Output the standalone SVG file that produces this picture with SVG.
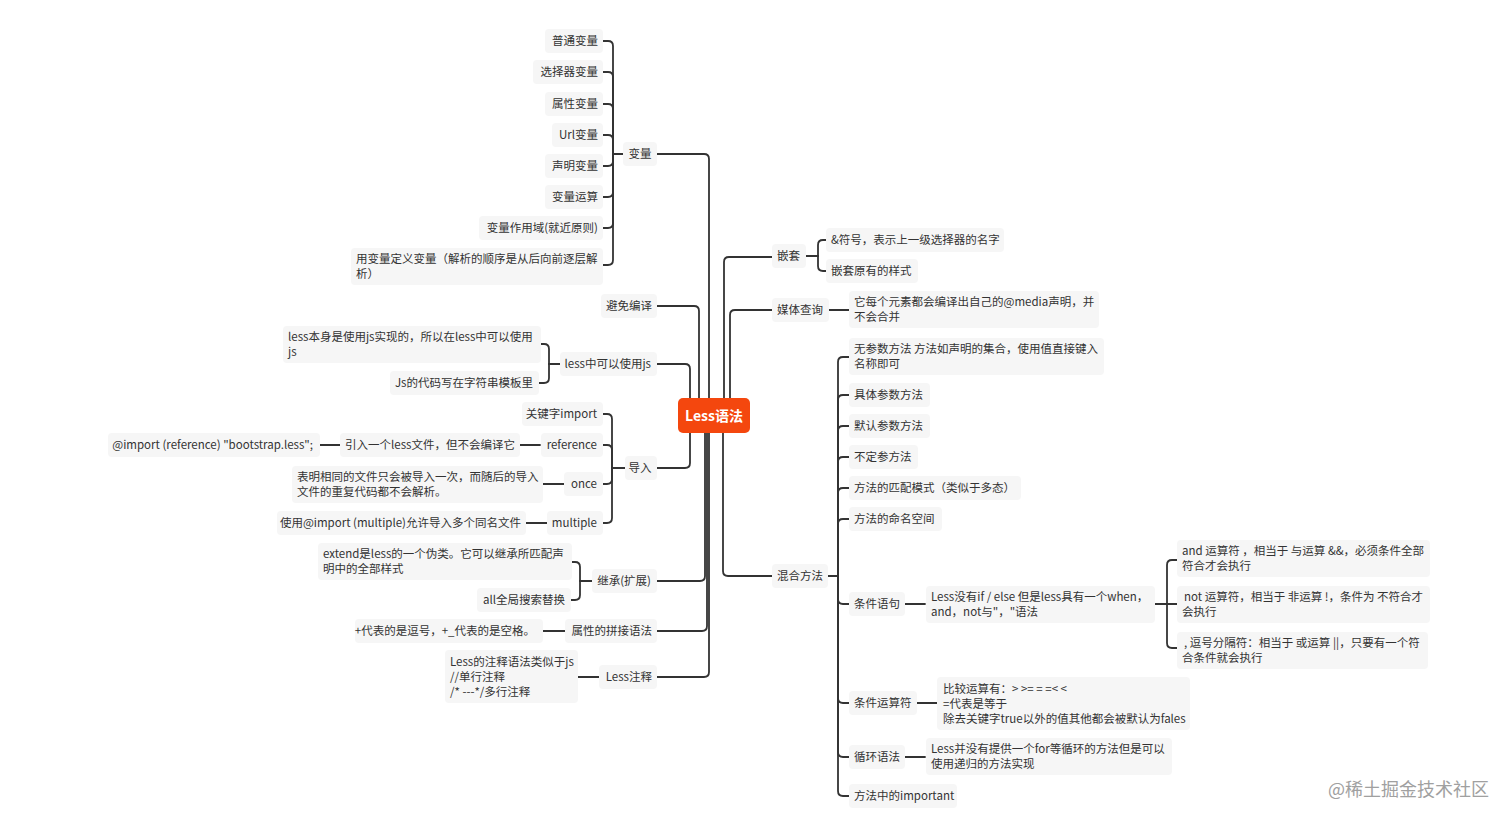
<svg xmlns="http://www.w3.org/2000/svg" width="1512" height="822" viewBox="0 0 1512 822">
<style>
.t{font-family:"Noto Sans CJK SC","Noto Sans",sans-serif;font-size:11.5px;fill:#333}
.e{text-anchor:end}
.m{text-anchor:middle}
.bg{fill:#f6f6f6}
.c{fill:none;stroke:#333;stroke-width:1.8;stroke-linecap:round}
.root{fill:#f4470e}
.rt{font-family:"Noto Sans CJK SC","Noto Sans",sans-serif;font-size:14px;font-weight:bold;fill:#fff;text-anchor:middle}
.wm{font-family:"Noto Sans CJK SC",sans-serif;font-size:18px;fill:#a0a0a0}
</style>
<rect width="1512" height="822" fill="#fff"/>
<g id="connectors" class="c">
<path d="M657 154 H704 Q709 154 709 159 V400"/>
<path d="M657 306 H694 Q699 306 699 311 V400"/>
<path d="M657 364 H685 Q690 364 690 369 V400"/>
<path d="M657 468 H685 Q690 468 690 463 V431"/>
<path d="M657 581 H700 Q705 581 705 576 V431"/>
<path d="M657 631 H702 Q707 631 707 626 V431"/>
<path d="M657 677 H704 Q709 677 709 672 V431"/>
<path d="M772 257 H729 Q724 257 724 262 V400"/>
<path d="M772 310 H735 Q730 310 730 315 V400"/>
<path d="M772 576 H728 Q723 576 723 571 V431"/>
<path d="M624 154 H613"/>
<path d="M603 41 H608 Q613 41 613 46 V154"/>
<path d="M603 72 H608 Q613 72 613 77 V154"/>
<path d="M603 104 H608 Q613 104 613 109 V154"/>
<path d="M603 135 H608 Q613 135 613 140 V154"/>
<path d="M603 166 H608 Q613 166 613 161 V154"/>
<path d="M603 197 H608 Q613 197 613 192 V154"/>
<path d="M603 228 H608 Q613 228 613 223 V154"/>
<path d="M603 265 H608 Q613 265 613 260 V154"/>
<path d="M560 364 H549"/>
<path d="M541 344 H544 Q549 344 549 349 V364"/>
<path d="M539 383 H544 Q549 383 549 378 V364"/>
<path d="M625 468 H612"/>
<path d="M603 414 H607 Q612 414 612 419 V468"/>
<path d="M603 445 H607 Q612 445 612 450 V468"/>
<path d="M603 484 H607 Q612 484 612 479 V468"/>
<path d="M603 523 H607 Q612 523 612 518 V468"/>
<path d="M520 445 H540"/>
<path d="M320 445 H340"/>
<path d="M543 484 H564"/>
<path d="M526 523 H547"/>
<path d="M592 581 H580"/>
<path d="M572 562 H575 Q580 562 580 567 V581"/>
<path d="M571 600 H575 Q580 600 580 595 V581"/>
<path d="M543 631 H565"/>
<path d="M578 677 H599"/>
<path d="M806 256 H818"/>
<path d="M826 240 H823 Q818 240 818 245 V256"/>
<path d="M826 271 H823 Q818 271 818 266 V256"/>
<path d="M829 310 H849"/>
<path d="M828 576 H838"/>
<path d="M849 357 H843 Q838 357 838 362 V576"/>
<path d="M849 395 H843 Q838 395 838 400 V576"/>
<path d="M849 426 H843 Q838 426 838 431 V576"/>
<path d="M849 457 H843 Q838 457 838 462 V576"/>
<path d="M849 488 H843 Q838 488 838 493 V576"/>
<path d="M849 519 H843 Q838 519 838 524 V576"/>
<path d="M849 604 H843 Q838 604 838 599 V576"/>
<path d="M849 703 H843 Q838 703 838 698 V576"/>
<path d="M849 757 H843 Q838 757 838 752 V576"/>
<path d="M849 796 H843 Q838 796 838 791 V576"/>
<path d="M905 604 H925"/>
<path d="M917 703 H937"/>
<path d="M905 757 H925"/>
<path d="M1155 604 H1177"/>
<path d="M1177 560 H1172 Q1167 560 1167 565 V604"/>
<path d="M1177 648 H1172 Q1167 648 1167 643 V604"/>
</g>
<g id="root"><rect class="root" x="678" y="398" width="72" height="35" rx="5"/><text class="rt" x="714" y="421">Less语法</text></g>
<g id="n-bianliang"><rect class="bg" x="623" y="142" width="34" height="24" rx="4"/><text class="t m" x="640" y="158">变量</text></g>
<g id="n-v1"><rect class="bg" x="545" y="29" width="58" height="24" rx="4"/><text class="t e" x="598" y="45">普通变量</text></g>
<g id="n-v2"><rect class="bg" x="533" y="60" width="70" height="24" rx="4"/><text class="t e" x="598" y="76">选择器变量</text></g>
<g id="n-v3"><rect class="bg" x="545" y="92" width="58" height="24" rx="4"/><text class="t e" x="598" y="108">属性变量</text></g>
<g id="n-v4"><rect class="bg" x="552" y="123" width="51" height="24" rx="4"/><text class="t e" x="598" y="139">Url变量</text></g>
<g id="n-v5"><rect class="bg" x="545" y="154" width="58" height="24" rx="4"/><text class="t e" x="598" y="170">声明变量</text></g>
<g id="n-v6"><rect class="bg" x="545" y="185" width="58" height="24" rx="4"/><text class="t e" x="598" y="201">变量运算</text></g>
<g id="n-v7"><rect class="bg" x="479" y="216" width="124" height="24" rx="4"/><text class="t e" x="598" y="232">变量作用域(就近原则)</text></g>
<g id="n-v8"><rect class="bg" x="351" y="248" width="252" height="37" rx="4"/><text class="t" x="356" y="263">用变量定义变量（解析的顺序是从后向前逐层解</text><text class="t" x="356" y="278">析）</text></g>
<g id="n-bimian"><rect class="bg" x="601" y="294" width="56" height="24" rx="4"/><text class="t e" x="652" y="310">避免编译</text></g>
<g id="n-js"><rect class="bg" x="560" y="352" width="97" height="24" rx="4"/><text class="t e" x="651" y="368">less中可以使用js</text></g>
<g id="n-js1"><rect class="bg" x="283" y="326" width="258" height="37" rx="4"/><text class="t" x="288" y="341">less本身是使用js实现的，所以在less中可以使用</text><text class="t" x="288" y="356">js</text></g>
<g id="n-js2"><rect class="bg" x="390" y="371" width="149" height="24" rx="4"/><text class="t e" x="533" y="387">Js的代码写在字符串模板里</text></g>
<g id="n-daoru"><rect class="bg" x="625" y="456" width="32" height="24" rx="4"/><text class="t m" x="640" y="472">导入</text></g>
<g id="n-d1"><rect class="bg" x="522" y="402" width="81" height="24" rx="4"/><text class="t e" x="597" y="418">关键字import</text></g>
<g id="n-d2"><rect class="bg" x="541" y="433" width="62" height="24" rx="4"/><text class="t e" x="597" y="449">reference</text></g>
<g id="n-d2a"><rect class="bg" x="340" y="433" width="180" height="24" rx="4"/><text class="t e" x="515" y="449">引入一个less文件，但不会编译它</text></g>
<g id="n-d2b"><rect class="bg" x="108" y="433" width="212" height="24" rx="4"/><text class="t e" x="313" y="449">@import (reference) "bootstrap.less";</text></g>
<g id="n-d3"><rect class="bg" x="564" y="472" width="39" height="24" rx="4"/><text class="t e" x="597" y="488">once</text></g>
<g id="n-d3a"><rect class="bg" x="292" y="466" width="251" height="37" rx="4"/><text class="t" x="297" y="481">表明相同的文件只会被导入一次，而随后的导入</text><text class="t" x="297" y="496">文件的重复代码都不会解析。</text></g>
<g id="n-d4"><rect class="bg" x="547" y="511" width="56" height="24" rx="4"/><text class="t e" x="597" y="527">multiple</text></g>
<g id="n-d4a"><rect class="bg" x="277" y="511" width="249" height="24" rx="4"/><text class="t e" x="521" y="527">使用@import (multiple)允许导入多个同名文件</text></g>
<g id="n-jicheng"><rect class="bg" x="592" y="569" width="65" height="24" rx="4"/><text class="t e" x="651" y="585">继承(扩展)</text></g>
<g id="n-j1"><rect class="bg" x="318" y="543" width="254" height="37" rx="4"/><text class="t" x="323" y="558">extend是less的一个伪类。它可以继承所匹配声</text><text class="t" x="323" y="573">明中的全部样式</text></g>
<g id="n-j2"><rect class="bg" x="477" y="588" width="94" height="24" rx="4"/><text class="t e" x="565" y="604">all全局搜索替换</text></g>
<g id="n-pinjie"><rect class="bg" x="565" y="619" width="92" height="24" rx="4"/><text class="t e" x="652" y="635">属性的拼接语法</text></g>
<g id="n-p1"><rect class="bg" x="355" y="619" width="188" height="24" rx="4"/><text class="t e" x="535" y="635">+代表的是逗号，+_代表的是空格。</text></g>
<g id="n-zhushi"><rect class="bg" x="599" y="665" width="58" height="24" rx="4"/><text class="t e" x="652" y="681">Less注释</text></g>
<g id="n-z1"><rect class="bg" x="445" y="650" width="133" height="53" rx="4"/><text class="t" x="450" y="666">Less的注释语法类似于js</text><text class="t" x="450" y="681">//单行注释</text><text class="t" x="450" y="696">/* ---*/多行注释</text></g>
<g id="n-qiantao"><rect class="bg" x="772" y="244" width="34" height="24" rx="4"/><text class="t" x="777" y="260">嵌套</text></g>
<g id="n-q1"><rect class="bg" x="826" y="228" width="178" height="24" rx="4"/><text class="t" x="831" y="244">&amp;符号，表示上一级选择器的名字</text></g>
<g id="n-q2"><rect class="bg" x="826" y="259" width="92" height="24" rx="4"/><text class="t" x="831" y="275">嵌套原有的样式</text></g>
<g id="n-meiti"><rect class="bg" x="772" y="298" width="57" height="24" rx="4"/><text class="t" x="777" y="314">媒体查询</text></g>
<g id="n-m1"><rect class="bg" x="849" y="291" width="250" height="37" rx="4"/><text class="t" x="854" y="306">它每个元素都会编译出自己的@media声明，并</text><text class="t" x="854" y="321">不会合并</text></g>
<g id="n-hunhe"><rect class="bg" x="772" y="564" width="56" height="24" rx="4"/><text class="t" x="777" y="580">混合方法</text></g>
<g id="n-h1"><rect class="bg" x="849" y="338" width="255" height="37" rx="4"/><text class="t" x="854" y="353">无参数方法 方法如声明的集合，使用值直接键入</text><text class="t" x="854" y="368">名称即可</text></g>
<g id="n-h2"><rect class="bg" x="849" y="383" width="81" height="24" rx="4"/><text class="t" x="854" y="399">具体参数方法</text></g>
<g id="n-h3"><rect class="bg" x="849" y="414" width="81" height="24" rx="4"/><text class="t" x="854" y="430">默认参数方法</text></g>
<g id="n-h4"><rect class="bg" x="849" y="445" width="69" height="24" rx="4"/><text class="t" x="854" y="461">不定参方法</text></g>
<g id="n-h5"><rect class="bg" x="849" y="476" width="172" height="24" rx="4"/><text class="t" x="854" y="492">方法的匹配模式（类似于多态）</text></g>
<g id="n-h6"><rect class="bg" x="849" y="507" width="93" height="24" rx="4"/><text class="t" x="854" y="523">方法的命名空间</text></g>
<g id="n-h7"><rect class="bg" x="849" y="592" width="56" height="24" rx="4"/><text class="t" x="854" y="608">条件语句</text></g>
<g id="n-h7a"><rect class="bg" x="926" y="586" width="229" height="37" rx="4"/><text class="t" x="931" y="601">Less没有if / else 但是less具有一个when，</text><text class="t" x="931" y="616">and，not与"，"语法</text></g>
<g id="n-h7b"><rect class="bg" x="1177" y="540" width="253" height="37" rx="4"/><text class="t" x="1182" y="555">and 运算符 ，相当于 与运算 &amp;&amp;，必须条件全部</text><text class="t" x="1182" y="570">符合才会执行</text></g>
<g id="n-h7c"><rect class="bg" x="1177" y="586" width="253" height="37" rx="4"/><text class="t" x="1184" y="601">not 运算符，相当于 非运算 !，条件为 不符合才</text><text class="t" x="1182" y="616">会执行</text></g>
<g id="n-h7d"><rect class="bg" x="1177" y="632" width="251" height="37" rx="4"/><text class="t" x="1184" y="647">, 逗号分隔符：相当于 或运算 ||，只要有一个符</text><text class="t" x="1182" y="662">合条件就会执行</text></g>
<g id="n-h8"><rect class="bg" x="849" y="691" width="68" height="24" rx="4"/><text class="t" x="854" y="707">条件运算符</text></g>
<g id="n-h8a"><rect class="bg" x="937" y="677" width="253" height="53" rx="4"/><text class="t" x="943" y="693">比较运算有：&gt; &gt;= = =&lt; &lt;</text><text class="t" x="943" y="708">=代表是等于</text><text class="t" x="943" y="723">除去关键字true以外的值其他都会被默认为fales</text></g>
<g id="n-h9"><rect class="bg" x="849" y="745" width="56" height="24" rx="4"/><text class="t" x="854" y="761">循环语法</text></g>
<g id="n-h9a"><rect class="bg" x="926" y="738" width="246" height="37" rx="4"/><text class="t" x="931" y="753">Less并没有提供一个for等循环的方法但是可以</text><text class="t" x="931" y="768">使用递归的方法实现</text></g>
<g id="n-h10"><rect class="bg" x="849" y="784" width="108" height="24" rx="4"/><text class="t" x="854" y="800">方法中的important</text></g>
<text class="wm" x="1328" y="796">@稀土掘金技术社区</text>
</svg>
